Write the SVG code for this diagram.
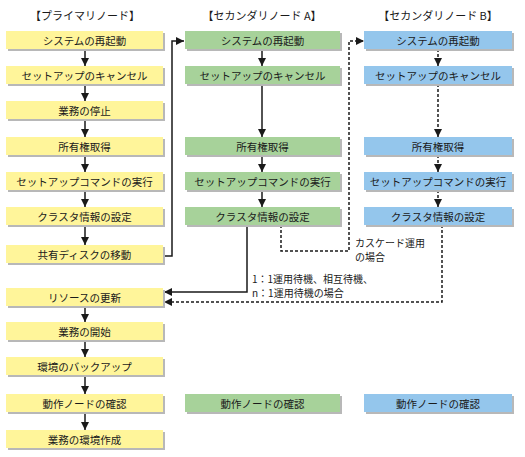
<svg xmlns="http://www.w3.org/2000/svg" width="525" height="457" viewBox="0 0 525 457">
<style>
.t{font-family:"Noto Sans CJK JP","Noto Sans CJK SC",sans-serif;font-size:10.5px;fill:#1a1a1a;text-anchor:middle;dominant-baseline:central}
.h{font-family:"Noto Sans CJK JP","Noto Sans CJK SC",sans-serif;font-size:11px;fill:#1a1a1a;text-anchor:middle;dominant-baseline:central}
.l{font-family:"Noto Sans CJK JP","Noto Sans CJK SC",sans-serif;font-size:10px;fill:#1a1a1a}
.sh{fill:#b8b8b8}
.y{fill:#fff59a}
.g{fill:#a7d29a}
.b{fill:#94c6ec}
.c{fill:none;stroke:#1a1a1a;stroke-width:1.5}
.d{fill:none;stroke:#1a1a1a;stroke-width:1.5;stroke-dasharray:3,2}
</style>
<defs>
<marker id="ar" viewBox="0 0 10 10" refX="10" refY="5" markerWidth="5.5" markerHeight="5.5" orient="auto" markerUnits="strokeWidth">
<path d="M0,0 L10,5 L0,10 Z" fill="#1a1a1a"/>
</marker>
</defs>
<g id="headers">
<text class="h" x="85" y="15">【プライマリノード】</text>
<text class="h" x="262" y="15">【セカンダリノード A】</text>
<text class="h" x="438" y="15">【セカンダリノード B】</text>
</g>
<g id="connectors">
<line class="c" x1="85" y1="49" x2="85" y2="66" marker-end="url(#ar)"/>
<line class="c" x1="85" y1="84" x2="85" y2="101" marker-end="url(#ar)"/>
<line class="c" x1="85" y1="119" x2="85" y2="137" marker-end="url(#ar)"/>
<line class="c" x1="85" y1="155" x2="85" y2="172" marker-end="url(#ar)"/>
<line class="c" x1="85" y1="190" x2="85" y2="207" marker-end="url(#ar)"/>
<line class="c" x1="85" y1="225" x2="85" y2="245" marker-end="url(#ar)"/>
<line class="c" x1="85" y1="306" x2="85" y2="322" marker-end="url(#ar)"/>
<line class="c" x1="85" y1="340" x2="85" y2="357" marker-end="url(#ar)"/>
<line class="c" x1="85" y1="375" x2="85" y2="394" marker-end="url(#ar)"/>
<line class="c" x1="85" y1="412" x2="85" y2="430" marker-end="url(#ar)"/>
<line class="c" x1="262" y1="49" x2="262" y2="66" marker-end="url(#ar)"/>
<line class="c" x1="262" y1="84" x2="262" y2="137" marker-end="url(#ar)"/>
<line class="c" x1="262" y1="155" x2="262" y2="172" marker-end="url(#ar)"/>
<line class="c" x1="262" y1="190" x2="262" y2="207" marker-end="url(#ar)"/>
<line class="d" x1="438" y1="49" x2="438" y2="66" marker-end="url(#ar)"/>
<line class="d" x1="438" y1="84" x2="438" y2="137" marker-end="url(#ar)"/>
<line class="d" x1="438" y1="155" x2="438" y2="172" marker-end="url(#ar)"/>
<line class="d" x1="438" y1="190" x2="438" y2="207" marker-end="url(#ar)"/>
<polyline class="c" points="163,256 172,256 172,41 184,41" marker-end="url(#ar)"/>
<polyline class="c" points="247,225 247,292 164,292" marker-end="url(#ar)"/>
<polyline class="d" points="281,225 281,251 349,251 349,41 364,41" marker-end="url(#ar)"/>
<polyline class="d" points="442,225 442,302 164,302" marker-end="url(#ar)"/>
</g>
<g id="labels">
<text class="l" x="355" y="247">カスケード運用</text>
<text class="l" x="355" y="261">の場合</text>
<text class="l" x="252" y="283">1：1運用待機、相互待機、</text>
<text class="l" x="252" y="297">n：1運用待機の場合</text>
</g>
<g id="p1"><rect class="sh" x="8" y="33" width="157" height="18"/><rect class="y" x="6" y="31" width="157" height="18"/><text class="t" x="84.5" y="40">システムの再起動</text></g>
<g id="p2"><rect class="sh" x="8" y="68" width="157" height="18"/><rect class="y" x="6" y="66" width="157" height="18"/><text class="t" x="84.5" y="75">セットアップのキャンセル</text></g>
<g id="p3"><rect class="sh" x="8" y="103" width="157" height="18"/><rect class="y" x="6" y="101" width="157" height="18"/><text class="t" x="84.5" y="110">業務の停止</text></g>
<g id="p4"><rect class="sh" x="8" y="139" width="157" height="18"/><rect class="y" x="6" y="137" width="157" height="18"/><text class="t" x="84.5" y="146">所有権取得</text></g>
<g id="p5"><rect class="sh" x="8" y="174" width="157" height="18"/><rect class="y" x="6" y="172" width="157" height="18"/><text class="t" x="84.5" y="181">セットアップコマンドの実行</text></g>
<g id="p6"><rect class="sh" x="8" y="209" width="157" height="18"/><rect class="y" x="6" y="207" width="157" height="18"/><text class="t" x="84.5" y="216">クラスタ情報の設定</text></g>
<g id="p7"><rect class="sh" x="8" y="247" width="157" height="18"/><rect class="y" x="6" y="245" width="157" height="18"/><text class="t" x="84.5" y="254">共有ディスクの移動</text></g>
<g id="p8"><rect class="sh" x="8" y="290" width="157" height="18"/><rect class="y" x="6" y="288" width="157" height="18"/><text class="t" x="84.5" y="297">リソースの更新</text></g>
<g id="p9"><rect class="sh" x="8" y="324" width="157" height="18"/><rect class="y" x="6" y="322" width="157" height="18"/><text class="t" x="84.5" y="331">業務の開始</text></g>
<g id="p10"><rect class="sh" x="8" y="359" width="157" height="18"/><rect class="y" x="6" y="357" width="157" height="18"/><text class="t" x="84.5" y="366">環境のバックアップ</text></g>
<g id="p11"><rect class="sh" x="8" y="396" width="157" height="18"/><rect class="y" x="6" y="394" width="157" height="18"/><text class="t" x="84.5" y="403">動作ノードの確認</text></g>
<g id="p12"><rect class="sh" x="8" y="432" width="157" height="18"/><rect class="y" x="6" y="430" width="157" height="18"/><text class="t" x="84.5" y="439">業務の環境作成</text></g>
<g id="a1"><rect class="sh" x="187" y="33" width="155" height="18"/><rect class="g" x="185" y="31" width="155" height="18"/><text class="t" x="262.5" y="40">システムの再起動</text></g>
<g id="a2"><rect class="sh" x="187" y="68" width="155" height="18"/><rect class="g" x="185" y="66" width="155" height="18"/><text class="t" x="262.5" y="75">セットアップのキャンセル</text></g>
<g id="a3"><rect class="sh" x="187" y="139" width="155" height="18"/><rect class="g" x="185" y="137" width="155" height="18"/><text class="t" x="262.5" y="146">所有権取得</text></g>
<g id="a4"><rect class="sh" x="187" y="174" width="155" height="18"/><rect class="g" x="185" y="172" width="155" height="18"/><text class="t" x="262.5" y="181">セットアップコマンドの実行</text></g>
<g id="a5"><rect class="sh" x="187" y="209" width="155" height="18"/><rect class="g" x="185" y="207" width="155" height="18"/><text class="t" x="262.5" y="216">クラスタ情報の設定</text></g>
<g id="a6"><rect class="sh" x="187" y="396" width="155" height="18"/><rect class="g" x="185" y="394" width="155" height="18"/><text class="t" x="262.5" y="403">動作ノードの確認</text></g>
<g id="b1"><rect class="sh" x="366" y="33" width="148" height="18"/><rect class="b" x="364" y="31" width="148" height="18"/><text class="t" x="438" y="40">システムの再起動</text></g>
<g id="b2"><rect class="sh" x="366" y="68" width="148" height="18"/><rect class="b" x="364" y="66" width="148" height="18"/><text class="t" x="438" y="75">セットアップのキャンセル</text></g>
<g id="b3"><rect class="sh" x="366" y="139" width="148" height="18"/><rect class="b" x="364" y="137" width="148" height="18"/><text class="t" x="438" y="146">所有権取得</text></g>
<g id="b4"><rect class="sh" x="366" y="174" width="148" height="18"/><rect class="b" x="364" y="172" width="148" height="18"/><text class="t" x="438" y="181">セットアップコマンドの実行</text></g>
<g id="b5"><rect class="sh" x="366" y="209" width="148" height="18"/><rect class="b" x="364" y="207" width="148" height="18"/><text class="t" x="438" y="216">クラスタ情報の設定</text></g>
<g id="b6"><rect class="sh" x="366" y="396" width="148" height="18"/><rect class="b" x="364" y="394" width="148" height="18"/><text class="t" x="438" y="403">動作ノードの確認</text></g>
</svg>
